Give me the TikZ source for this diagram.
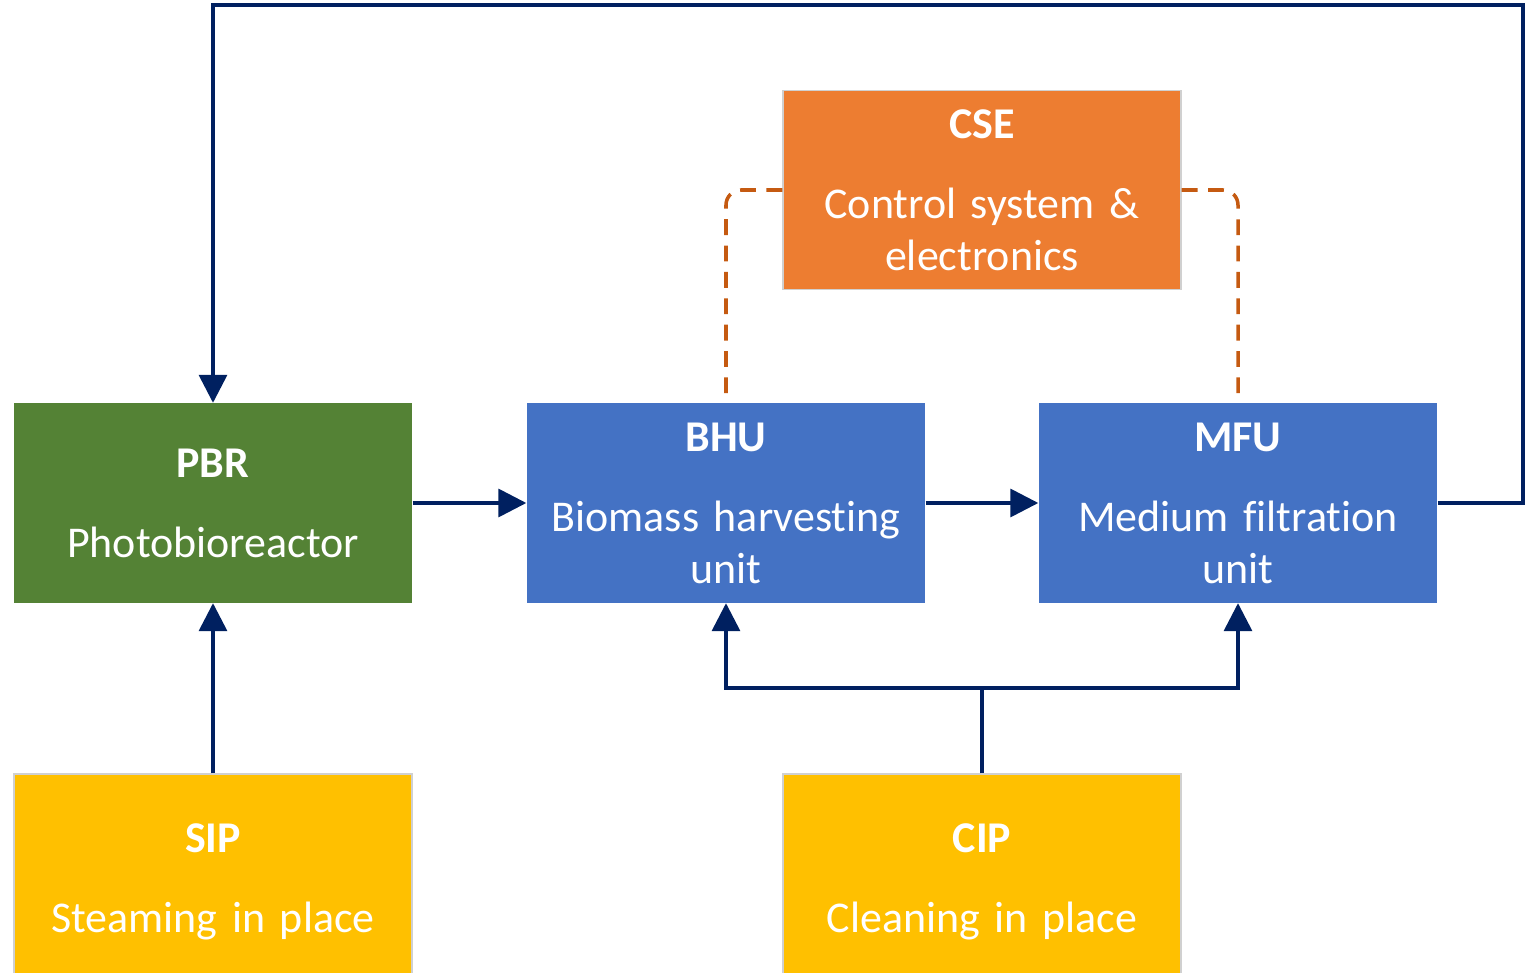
\documentclass[tikz,border=0pt]{standalone}
\usepackage{fontspec}
\setmainfont{Carlito}[Ligatures={NoCommon}]
\usetikzlibrary{arrows.meta}

\definecolor{pbrgreen}{HTML}{548235}
\definecolor{unitblue}{HTML}{4472C4}
\definecolor{cseorange}{HTML}{ED7D31}
\definecolor{utilyellow}{HTML}{FFC000}
\definecolor{flownavy}{HTML}{002060}
\definecolor{ctrlbrown}{HTML}{C55A11}
\definecolor{boxedge}{HTML}{D0D0D0}

\begin{document}
\begin{tikzpicture}[
    unitbox/.style={anchor=center,rectangle,text=white,align=center,
      text width=3.7cm,inner xsep=0.14cm,inner ysep=0pt,
      minimum height=1.99cm,
      font=\fontsize{12.5}{14.8}\selectfont},
    flow/.style={draw=flownavy,line width=1pt,
      -{Triangle[length=2.8mm,width=2.8mm]}},
    ctrl/.style={draw=ctrlbrown,line width=1pt,
      dash pattern=on 4.5pt off 3pt,rounded corners=0.15cm}]
    \useasboundingbox (0,0) rectangle (15.29,9.72);

    \coordinate (c-pbr) at (2.13, 4.69);
    \coordinate (c-bhu) at (7.26, 4.69);
    \coordinate (c-mfu) at (12.38, 4.69);
    \coordinate (c-cse) at (9.82, 7.82);
    \coordinate (c-sip) at (2.13, 0.905);
    \coordinate (c-cip) at (9.82, 0.905);

    \node [unitbox,fill=pbrgreen] (pbr) at (c-pbr)
    {\textbf{PBR}\\[8pt]Photobioreactor};

    \node [unitbox,fill=unitblue] (bhu) at (c-bhu)
    {\textbf{BHU}\\[8pt]Biomass harvesting\\unit};

    \node [unitbox,fill=unitblue] (mfu) at (c-mfu)
    {\textbf{MFU}\\[8pt]Medium filtration\\unit};

    \node [unitbox,fill=cseorange,draw=boxedge,line width=0.4pt] (cse)
    at (c-cse) {\textbf{CSE}\\[8pt]Control system \&\\electronics};

    \node [unitbox,fill=utilyellow,draw=boxedge,line width=0.4pt,
    minimum height=2.15cm] (sip) at (c-sip)
    {\textbf{SIP}\\[8pt]Steaming in place};

    \node [unitbox,fill=utilyellow,draw=boxedge,line width=0.4pt,
    minimum height=2.15cm] (cip) at (c-cip)
    {\textbf{CIP}\\[8pt]Cleaning in place};

    \coordinate (ret) at (15.23, 9.67);
    \coordinate (cipsplit) at (9.82, 2.84);

    \draw [flow] (pbr.east) -- (bhu.west);
    \draw [flow] (bhu.east) -- (mfu.west);
    \draw [flow] (mfu.east) -| (ret) -| (pbr.north);
    \draw [flow] (sip.north) -- (pbr.south);
    \draw [flow] (cip.north) -- (cipsplit) -| (bhu.south);
    \draw [flow] (cipsplit) -| (mfu.south);

    \draw [ctrl] (cse.west) -| (bhu.north);
    \draw [ctrl] (cse.east) -| (mfu.north);
  \end{tikzpicture}
\end{document}
